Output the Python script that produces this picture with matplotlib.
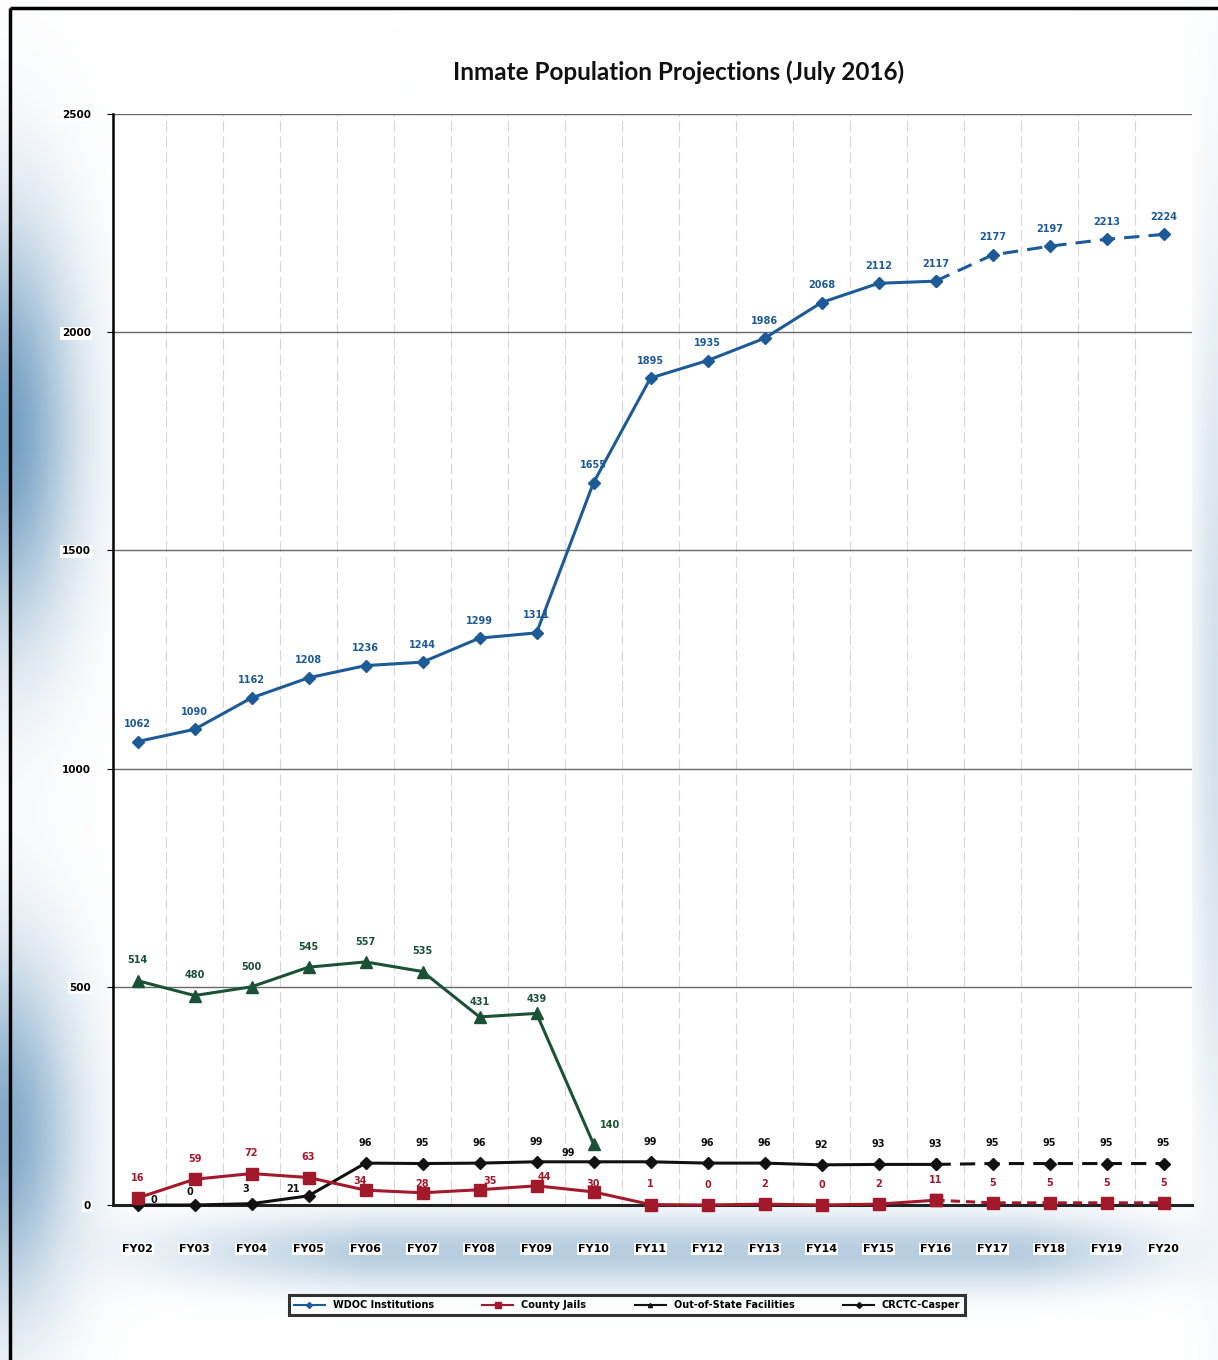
import matplotlib.pyplot as plt
import numpy as np
from matplotlib.lines import Line2D
from matplotlib.patches import Rectangle

years = ["FY02", "FY03", "FY04", "FY05", "FY06", "FY07", "FY08", "FY09", "FY10", "FY11",
         "FY12", "FY13", "FY14", "FY15", "FY16", "FY17", "FY18", "FY19", "FY20"]
wdoc = [1062, 1090, 1162, 1208, 1236, 1244, 1299, 1311, 1655, 1895,
        1935, 1986, 2068, 2112, 2117, 2177, 2197, 2213, 2224]
county = [16, 59, 72, 63, 34, 28, 35, 44, 30, 1, 0, 2, 0, 2, 11, 5, 5, 5, 5]
out_of_state = [514, 480, 500, 545, 557, 535, 431, 439, 140]
crctc = [0, 0, 3, 21, 96, 95, 96, 99, 99, 99, 96, 96, 92, 93, 93, 95, 95, 95, 95]
legend_labels = ["WDOC Institutions", "County Jails", "Out-of-State Facilities", "CRCTC-Casper"]
y_ticks = [0, 500, 1000, 1500, 2000, 2500]

BLUE = "#1d5a98"
RED = "#a3192c"
GREEN = "#1b5236"
BLACK = "#111111"
PROJ_START = 14  # FY16 onward is projected

W, H = 1218, 1360
fig = plt.figure(figsize=(W / 100, H / 100), dpi=100)
fig.patch.set_facecolor("white")

# soft blue haze along the left and bottom edges
bg = fig.add_axes([0, 0, 1, 1], zorder=-5)
gy, gx = np.mgrid[0:H:4, 0:W:4]
haze = np.zeros_like(gx, dtype=float)
haze += 0.80 * np.exp(-((gx - 0) / 70.0) ** 2) * np.exp(-((gy - 430) / 200.0) ** 2)
haze += 0.70 * np.exp(-((gx - 0) / 70.0) ** 2) * np.exp(-((gy - 1130) / 170.0) ** 2)
haze += 0.40 * np.exp(-((gy - 1250) / 35.0) ** 2) * np.clip((gx - 60) / 300.0, 0, 1) * np.clip((1230 - gx) / 200.0, 0, 1)
haze += 0.25 * np.exp(-((gx - W) / 25.0) ** 2) * np.exp(-((gy - 700) / 450.0) ** 2)
haze = np.clip(haze, 0, 1)
base = np.array([1.0, 1.0, 1.0])
tint = np.array([0.30, 0.52, 0.70])
img = base[None, None, :] * (1 - haze[..., None]) + tint[None, None, :] * haze[..., None]
bg.imshow(img, extent=[0, W, H, 0], aspect="auto", interpolation="bilinear")
bg.set_xlim(0, W)
bg.set_ylim(H, 0)
bg.axis("off")
bg.add_patch(Rectangle((10, 8), W + 20, H, fill=False, lw=2.5, ec="black"))

ax = fig.add_axes([113 / W, 1 - 1205 / H, (1192 - 113) / W, (1205 - 114) / H])
ax.set_facecolor("white")
x = np.arange(len(years))
ax.set_xlim(-0.43, 18.5)
ax.set_ylim(0, 2500)
ax.set_yticks(y_ticks)
ax.set_yticklabels([str(v) for v in y_ticks], fontsize=7.5, fontweight="bold")
ax.set_xticks(x)
ax.set_xticklabels(years, fontsize=8, fontweight="bold")
ax.tick_params(axis="x", length=0, pad=28)
ax.tick_params(axis="y", length=4, pad=12)
for lab in ax.get_xticklabels() + ax.get_yticklabels():
    lab.set_bbox(dict(facecolor="white", edgecolor="none", pad=1.0))
ax.yaxis.grid(True, color="#6a6a6a", lw=1.0)
for b in np.arange(0.5, 18.5, 1.0):
    ax.axvline(b, color="#d6d6d6", lw=0.8, ls=(0, (10, 4)), zorder=0)
for side in ["top", "right"]:
    ax.spines[side].set_visible(False)
ax.spines["left"].set_linewidth(1.8)
ax.spines["bottom"].set_linewidth(2.2)
ax.spines["bottom"].set_color("#222222")


def plot_series(values, color, marker, ms, dashed_tail, dash):
    vals = np.array(values, dtype=float)
    n = len(vals)
    end = min(n, PROJ_START + 1) if dashed_tail else n
    ax.plot(x[:end], vals[:end], color=color, lw=2.2, marker=marker, ms=ms, zorder=3, clip_on=False)
    if dashed_tail and n > PROJ_START:
        ax.plot(x[PROJ_START:n], vals[PROJ_START:n], color=color, lw=2.2, ls=dash,
                marker=marker, ms=ms, zorder=3, clip_on=False)


plot_series(wdoc, BLUE, "D", 6, True, (0, (5, 3)))
plot_series(out_of_state, GREEN, "^", 8, False, None)
plot_series(crctc, BLACK, "D", 6, True, (0, (5, 3)))
plot_series(county, RED, "s", 8, True, (0, (3, 2)))


def label_series(values, color, dy, overrides=None):
    overrides = overrides or {}
    for i, v in enumerate(values):
        ox, oy = overrides.get(i, (0, dy))
        ax.annotate(str(v), (x[i], v), xytext=(ox, oy), textcoords="offset points",
                    ha="center", va="bottom", fontsize=7, fontweight="bold", color=color, zorder=5)


label_series(wdoc, BLUE, 9)
label_series(out_of_state, GREEN, 11, {6: (0, 7), 7: (0, 7), 8: (12, 10)})
label_series(crctc, BLACK, 11, {0: (12, 0), 1: (-3, 6), 2: (-4, 7), 3: (-11, 1), 8: (-18, 3)})
label_series(county, RED, 11, {4: (-4, 3), 5: (0, 3), 6: (8, 3), 7: (6, 3), 8: (0, 2)})

fig.text(0.557, 1 - 72 / H, "Inmate Population Projections (July 2016)", ha="center", va="center",
         fontsize=17.5, fontweight="bold", family="Lato", color="#111111")

handles = [
    Line2D([], [], color=BLUE, marker="D", ms=3, lw=1.5),
    Line2D([], [], color=RED, marker="s", ms=4, lw=1.5),
    Line2D([], [], color=BLACK, marker="^", ms=3, lw=1.5),
    Line2D([], [], color=BLACK, marker="D", ms=3, lw=1.5),
]
leg = fig.legend(handles, legend_labels, loc="center", bbox_to_anchor=(627 / W, 1 - 1305 / H),
                 ncol=4, frameon=True, fancybox=False, handlelength=3.2,
                 columnspacing=5.0, borderpad=0.5, prop={"weight": "bold", "size": 7})
leg.get_frame().set_edgecolor("black")
leg.get_frame().set_linewidth(2.2)

fig.savefig("out.png", dpi=100)
